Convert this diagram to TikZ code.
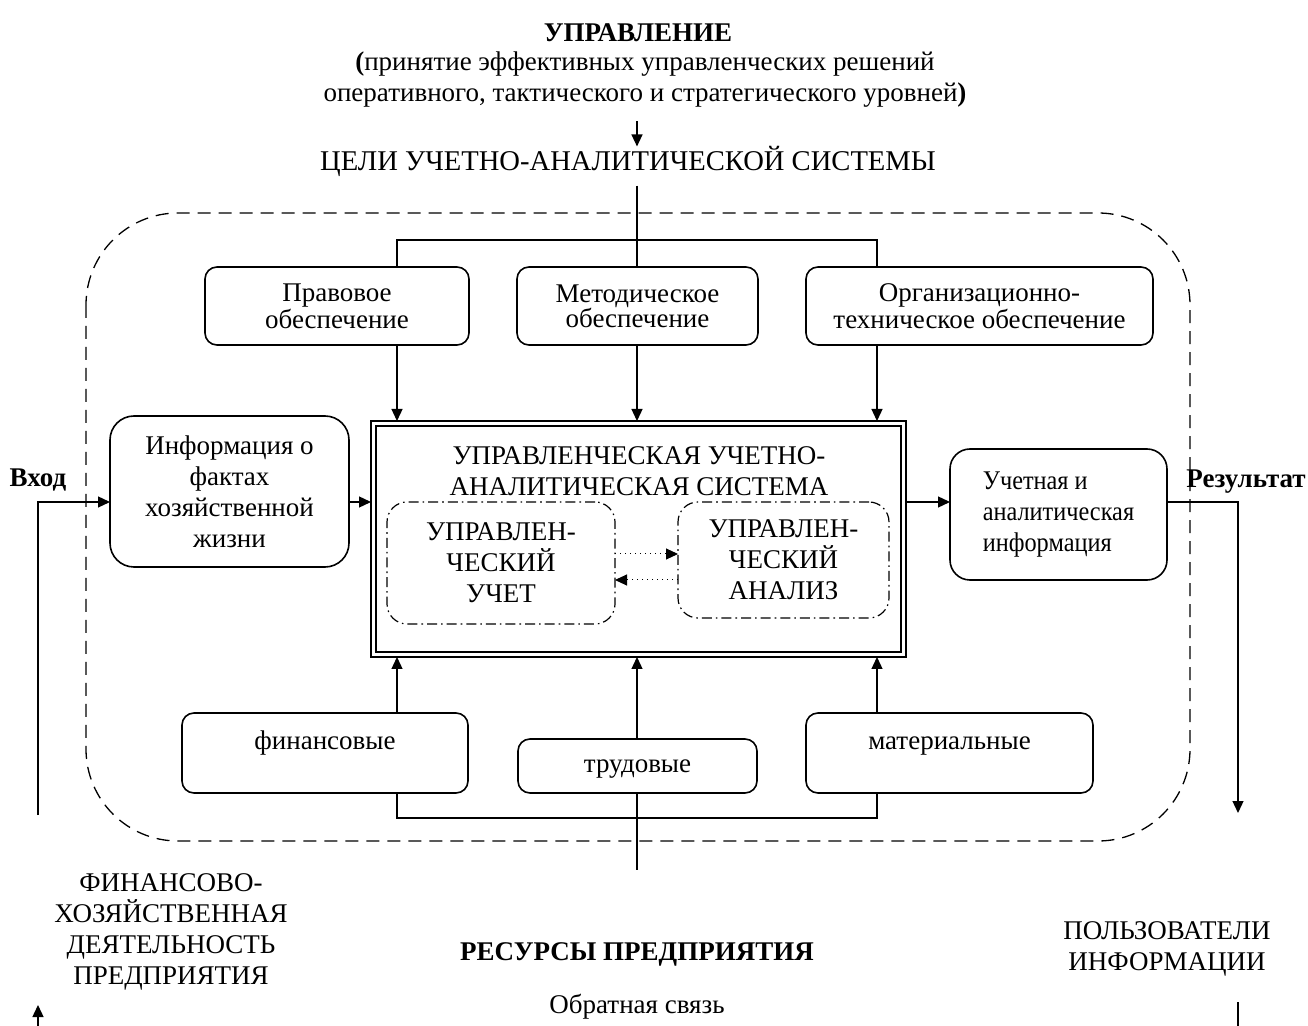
\documentclass[tikz,border=0pt]{standalone}
\usepackage{fontspec}
\setmainfont{Liberation Serif}
\newfontfamily\narrowserif{Liberation Serif}[FakeStretch=0.9]
\usetikzlibrary{arrows.meta}
\newcommand\diagfont{\fontsize{13.5pt}{15.5pt}\selectfont}
\newcommand\boxfont{\fontsize{13.5pt}{12.5pt}\selectfont}
\newcommand\goalfont{\fontsize{14.3pt}{16pt}\selectfont}

\tikzset{
  box/.style={draw, line width=0.8pt, rounded corners=6pt, inner sep=0pt,
    outer sep=0pt, align=center, font=\boxfont},
  infobox/.style={box, rounded corners=12pt, font=\diagfont},
  subsys/.style={draw, line width=0.6pt, rounded corners=10pt, inner sep=0pt,
    outer sep=0pt, align=center, font=\diagfont,
    dash pattern=on 5pt off 2pt on 0.8pt off 2pt},
  mainbox/.style={draw, line width=1pt, inner sep=0pt, outer sep=0pt},
  label/.style={inner sep=4.5pt, align=center, font=\diagfont},
  conn/.style={line width=0.65pt},
  arr/.style={conn, -{Triangle[length=6pt,width=5.5pt]}},
  dotarr/.style={line width=0.5pt, dotted, -{Triangle[length=6pt,width=5.5pt]}},
  boundary/.style={line width=0.65pt, dash pattern=on 6.5pt off 4pt,
    rounded corners=46pt}
}

\begin{document}
\begin{tikzpicture}[x=0.5pt, y=-0.5pt]
\useasboundingbox[fill=white] (0,0) rectangle (1308,1026);

% column positions of the vertical links and levels of the bars
\coordinate (xL) at (397,0);
\coordinate (xC) at (637,0);
\coordinate (xR) at (877,0);
\coordinate (topbar) at (0,240);
\coordinate (botbar) at (0,818);
\coordinate (botend) at (0,870);
\coordinate (flow) at (0,502);
\coordinate (dotA) at (0,554);
\coordinate (dotB) at (0,580);

% system boundary
\draw[boundary] (86,213) rectangle (1190,841);

% heading
\node[label, font=\diagfont\bfseries] (mgmt) at (638,33) {УПРАВЛЕНИЕ};
\node[label] (mgmtsub) at (645,80)
  {\textbf{(}принятие эффективных управленческих решений\\
   оперативного, тактического и стратегического уровней\textbf{)}};
\node[label, font=\goalfont] (goals) at (628,161) {ЦЕЛИ УЧЕТНО-АНАЛИТИЧЕСКОЙ СИСТЕМЫ};

% support blocks
\node[box, minimum width=132pt, minimum height=39pt] (legal) at (337,306)
  {Правовое\\обеспечение};
\node[box, minimum width=120.5pt, minimum height=39pt] (method) at (637.5,306)
  {Методическое\\обеспечение};
\node[box, minimum width=173.5pt, minimum height=39pt] (orgtech) at (979.5,306)
  {Организационно-\\техническое обеспечение};

% core system
\node[mainbox, minimum width=267.5pt, minimum height=118pt] (core) at (638.5,539) {};
\draw[line width=0.8pt] ([shift={(2.6pt,-2.6pt)}]core.north west)
  rectangle ([shift={(-2.6pt,2.6pt)}]core.south east);
\node[label] (coretitle) at (639,471)
  {УПРАВЛЕНЧЕСКАЯ УЧЕТНО-\\АНАЛИТИЧЕСКАЯ СИСТЕМА};
\node[subsys, minimum width=114pt, minimum height=61pt] (acct) at (501,563)
  {УПРАВЛЕН-\\ЧЕСКИЙ\\УЧЕТ};
\node[subsys, minimum width=105.5pt, minimum height=58pt] (anl) at (783.5,560)
  {УПРАВЛЕН-\\ЧЕСКИЙ\\АНАЛИЗ};

% input and output
\node[infobox, minimum width=119.5pt, minimum height=75.5pt] (facts)
  at (229.5,491.5) {Информация о\\фактах\\хозяйственной\\жизни};
\node[infobox, rounded corners=10pt, align=left, font=\diagfont\narrowserif,
  minimum width=108.5pt, minimum height=65.5pt] (result) at (1058.5,514.5)
  {Учетная и\\аналитическая\\информация};
\node[label, font=\diagfont\bfseries] (inlabel) at (38,480) {Вход};
\node[label, font=\diagfont\bfseries] (outlabel) at (1246,482) {Результат};

% resources
\node[box, minimum width=143pt, text height=18pt, text depth=22pt] (fin) at (325,753)
  {финансовые};
\node[box, minimum width=119.5pt, text height=16.5pt, text depth=10.5pt] (labour)
  at (637.5,766) {трудовые};
\node[box, minimum width=143.5pt, text height=18pt, text depth=22pt] (mat) at (949.5,753)
  {материальные};

% lower captions
\node[label] (activity) at (171,932)
  {ФИНАНСОВО-\\ХОЗЯЙСТВЕННАЯ\\ДЕЯТЕЛЬНОСТЬ\\ПРЕДПРИЯТИЯ};
\node[label, font=\diagfont\bfseries] (resources) at (637,954) {РЕСУРСЫ ПРЕДПРИЯТИЯ};
\node[label] (users) at (1167,949) {ПОЛЬЗОВАТЕЛИ\\ИНФОРМАЦИИ};
\node[label] (feedback) at (637,1007) {Обратная связь};

% free ends of the outer loop
\coordinate (inStart) at (38,815);
\coordinate (outEnd) at (1238,813);
\coordinate (fbTail) at (38,1026);
\coordinate (fbHead) at (38,1005);
\coordinate (usrTop) at (1238,1002);
\coordinate (usrBot) at (1238,1026);

% links from management down to the system
\draw[arr, shorten <=2pt, shorten >=-5pt] (mgmtsub.south -| xC) -- (goals.north -| xC);
\draw[conn] (goals.south -| xC) -- (method.north -| xC);
\draw[conn] (legal.north -| xL) -- (xL |- topbar) -- (xR |- topbar) -- (orgtech.north -| xR);
\draw[arr] (legal.south -| xL) -- (core.north -| xL);
\draw[arr] (method.south -| xC) -- (core.north -| xC);
\draw[arr] (orgtech.south -| xR) -- (core.north -| xR);

% resources feeding the system
\draw[arr] (fin.north -| xL) -- (core.south -| xL);
\draw[arr] (labour.north -| xC) -- (core.south -| xC);
\draw[arr] (mat.north -| xR) -- (core.south -| xR);
\draw[conn] (fin.south -| xL) -- (xL |- botbar) -- (xR |- botbar) -- (mat.south -| xR);
\draw[conn] (labour.south -| xC) -- (xC |- botend);

% accounting <-> analysis
\draw[dotarr] (acct.east |- dotA) -- (anl.west |- dotA);
\draw[dotarr] (anl.west |- dotB) -- (acct.east |- dotB);

% main information flow
\draw[arr] (inStart) |- (facts.west |- flow);
\draw[arr] (facts.east |- flow) -- (core.west |- flow);
\draw[arr] (core.east |- flow) -- (result.west |- flow);
\draw[arr] (result.east |- flow) -| (outEnd);
\draw[arr] (fbTail) -- (fbHead);
\draw[conn] (usrTop) -- (usrBot);
\end{tikzpicture}
\end{document}
